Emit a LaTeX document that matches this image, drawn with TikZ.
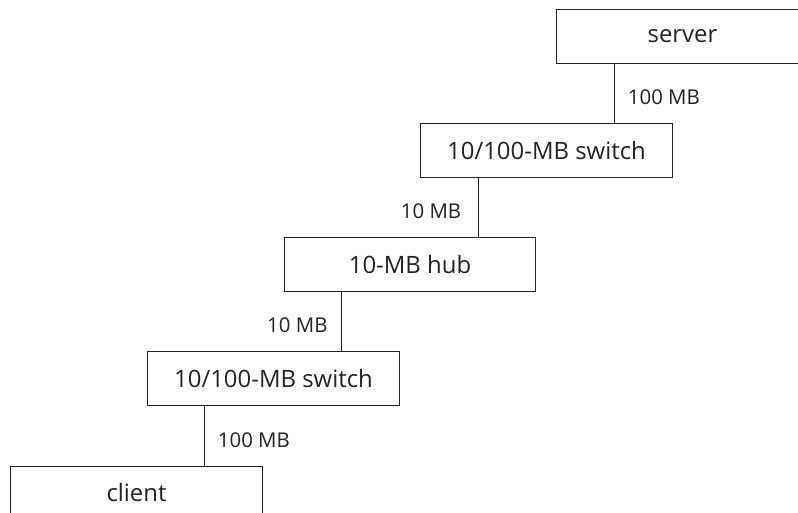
\documentclass[tikz,border=0pt]{standalone}
\usepackage{fontspec}
\setmainfont{Open Sans}
\usetikzlibrary{positioning, calc}
\definecolor{linegray}{RGB}{35, 35, 35}

\begin{document}
\begin{tikzpicture}[x=0.025cm, y=-0.025cm,
  netbox/.style={draw=linegray, line width=0.7pt, minimum width=6.275cm, minimum height=1.35cm, inner sep=0pt, text=linegray, font=\fontsize{17}{20}\selectfont},
  link/.style={draw=linegray, line width=0.7pt},
  speed/.style={inner sep=0pt, text=linegray, yshift=-0.1cm, font=\fontsize{14.5}{18}\selectfont}]
  \useasboundingbox (0,0) rectangle (798,513);
  \clip (0,0) rectangle (798,513);

  % boxes, top to bottom
  \node[netbox] (server) at (682.5, 36.5) {server};
  \node[netbox] (sw1) at (546.5, 150.5) {10/100-MB switch};
  \node[netbox] (hub) at (410, 264.5) {10-MB hub};
  \node[netbox] (sw2) at (273.5, 378.5) {10/100-MB switch};
  \node[netbox] (client) at (136.5, 493) {client};

  % links
  \draw[link] (server.south west) ++(58,0) coordinate (l1) -- (l1 |- sw1.north)
    node[speed, midway, right=0.325cm] {100 MB};
  \draw[link] (sw1.south west) ++(58,0) coordinate (l2) -- (l2 |- hub.north)
    node[speed, midway, left=0.42cm] {10 MB};
  \draw[link] (hub.south west) ++(58,0) coordinate (l3) -- (l3 |- sw2.north)
    node[speed, midway, left=0.35cm] {10 MB};
  \draw[link] (sw2.south west) ++(57,0) coordinate (l4) -- (l4 |- client.north)
    node[speed, midway, right=0.325cm] {100 MB};
\end{tikzpicture}
\end{document}
